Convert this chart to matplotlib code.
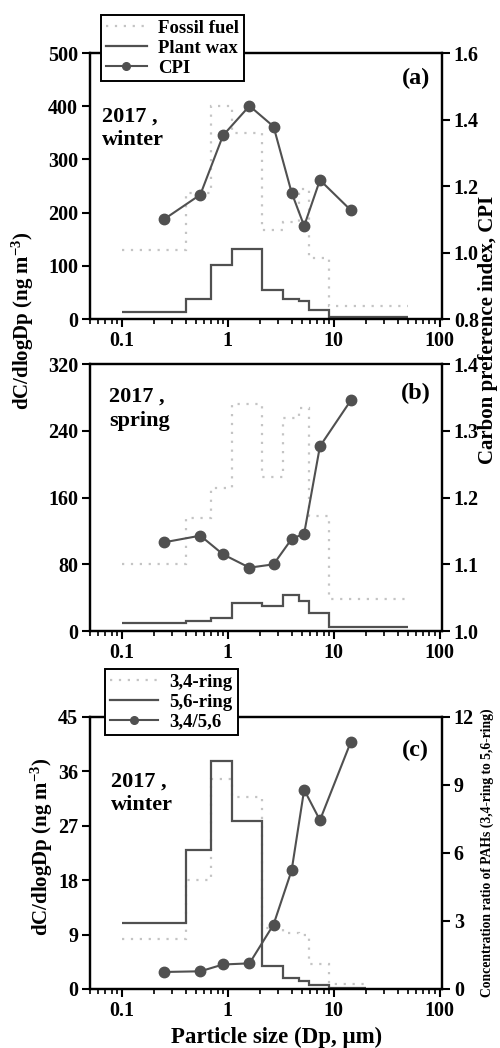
import matplotlib.pyplot as plt
import numpy as np

plt.rcParams['font.family'] = 'Liberation Serif'
plt.rcParams['font.weight'] = 'bold'
plt.rcParams['mathtext.fontset'] = 'custom'
plt.rcParams['mathtext.rm'] = 'Liberation Serif:bold'
plt.rcParams['mathtext.default'] = 'rm'

# size bins (um) and bin midpoints
edges_ab = [0.1, 0.4, 0.7, 1.1, 2.1, 3.3, 4.7, 5.8, 9.0, 50]
edges_c = [0.1, 0.4, 0.7, 1.1, 2.1, 3.3, 4.7, 5.8, 9.0, 20]
mid = [0.25, 0.55, 0.9, 1.6, 2.7, 4.0, 5.25, 7.4, 14.5]

# (a) 2017 winter, n-alkanes
fossil_a = [130, 237, 400, 350, 167, 182, 245, 114, 25]
wax_a = [14, 38, 102, 132, 54, 37, 34, 16, 4]
cpi_a = [1.10, 1.174, 1.352, 1.441, 1.379, 1.18, 1.08, 1.218, 1.127]

# (b) 2017 spring, n-alkanes
fossil_b = [80, 136, 171, 272, 185, 256, 267, 138, 38]
wax_b = [9, 11.5, 16, 34, 30.5, 43, 35.5, 22, 5]
cpi_b = [1.133, 1.143, 1.115, 1.095, 1.100, 1.138, 1.146, 1.277, 1.346]

# (c) 2017 winter, PAHs
ring34 = [8.3, 18, 34.7, 31.7, 10, 9.3, 9.0, 4.2, 0.9]
ring56 = [10.9, 22.9, 37.7, 27.7, 3.8, 1.9, 1.4, 0.6, 0.2]
ratio = [0.75, 0.78, 1.08, 1.13, 2.84, 5.23, 8.78, 7.44, 10.9]

fs = 14.5
dark = '#505050'
light = '#c4c4c4'

fig = plt.figure(figsize=(5, 10.48), dpi=100)

def panel(rect, edges, dotted, solid, pts, ylim, yticks, y2lim, y2ticks, y2labels,
          tag, season, tag_y, txt_pos):
    ax = fig.add_axes(rect)
    ax.set_xscale('log')
    ax.stairs(dotted, edges, baseline=None, color=light, lw=1.6, ls=(0, (1, 3)))
    ax.stairs(solid, edges, baseline=None, color=dark, lw=1.6)
    ax.set_xlim(0.05, 105)
    ax.set_ylim(*ylim)
    ax.set_yticks(yticks)
    ax.set_xticks([0.1, 1, 10, 100])
    ax.set_xticklabels(['0.1', '1', '10', '100'])
    ax.tick_params(axis='both', which='major', direction='out', length=6, width=1.5,
                   labelsize=fs, pad=2.5)
    ax.tick_params(axis='x', which='minor', direction='out', length=3.5, width=1.2)
    for s in ax.spines.values():
        s.set_linewidth(1.6)
    ax2 = ax.twinx()
    ax2.plot(pts[0], pts[1], color=dark, lw=1.5, marker='o', ms=7.5)
    ax2.set_ylim(*y2lim)
    ax2.set_yticks(y2ticks)
    ax2.set_yticklabels(y2labels)
    ax2.tick_params(axis='y', direction='out', length=6, width=1.5, labelsize=fs, pad=2.5)
    for s in ax2.spines.values():
        s.set_linewidth(1.6)
    ax2.text(0.925, tag_y, tag, transform=ax.transAxes, fontsize=fs + 3,
             ha='center', va='center')
    ax2.text(txt_pos[0], txt_pos[1], '2017 ,\n' + season, transform=ax.transAxes,
             fontsize=fs + 1.5, ha='left', va='top', linespacing=1.25)
    return ax, ax2

axa, axa2 = panel([0.18, 0.6956, 0.704, 0.2538], edges_ab, fossil_a, wax_a,
                  (mid, cpi_a), (0, 500), [0, 100, 200, 300, 400, 500],
                  (0.8, 1.6), [0.8, 1.0, 1.2, 1.4, 1.6],
                  ['0.8', '1.0', '1.2', '1.4', '1.6'], '(a)', 'winter', 0.905,
                  (0.035, 0.80))
axb, axb2 = panel([0.18, 0.3979, 0.704, 0.2545], edges_ab, fossil_b, wax_b,
                  (mid, cpi_b), (0, 320), [0, 80, 160, 240, 320],
                  (1.0, 1.4), [1.0, 1.1, 1.2, 1.3, 1.4],
                  ['1.0', '1.1', '1.2', '1.3', '1.4'], '(b)', 'spring', 0.89,
                  (0.055, 0.915))
axc, axc2 = panel([0.18, 0.0563, 0.704, 0.2598], edges_c, ring34, ring56,
                  (mid, ratio), (0, 45), [0, 9, 18, 27, 36, 45],
                  (0, 12), [0, 3, 6, 9, 12],
                  ['0', '3', '6', '9', '12'], '(c)', 'winter', 0.875,
                  (0.06, 0.80))

# legends
h_dot = plt.Line2D([], [], color=light, lw=1.6, ls=(0, (1, 3)))
h_sol = plt.Line2D([], [], color=dark, lw=1.6)
h_pt = plt.Line2D([], [], color=dark, lw=1.5, marker='o', ms=5.5)
leg_kw = dict(loc='upper left', bbox_transform=fig.transFigure, borderaxespad=0,
              fancybox=False, edgecolor='black', framealpha=1, fontsize=13.5,
              handletextpad=0.6, borderpad=0.25, labelspacing=0.15)
lg = axa2.legend([h_dot, h_sol, h_pt], ['Fossil fuel', 'Plant wax', 'CPI'],
                 bbox_to_anchor=(101 / 500, 1 - 15 / 1048), handlelength=2.2, **leg_kw)
lg.get_frame().set_linewidth(1.4)
lg = axc2.legend([h_dot, h_sol, h_pt], ['3,4-ring', '5,6-ring', '3,4/5,6'],
                 bbox_to_anchor=(105 / 500, 1 - 669 / 1048), handlelength=2.6, **leg_kw)
lg.get_frame().set_linewidth(1.4)

# axis titles
fig.text(0.045, 1 - 321 / 1048, 'dC/dlogDp (ng m$^{-3}$)', rotation=90,
         ha='center', va='center', fontsize=15)
fig.text(0.975, 1 - 330 / 1048, 'Carbon preference index, CPI', rotation=90,
         ha='center', va='center', fontsize=15)
fig.text(0.084, 1 - 847 / 1048, 'dC/dlogDp (ng m$^{-3}$)', rotation=90,
         ha='center', va='center', fontsize=15)
fig.text(0.974, 1 - 853 / 1048, 'Concentration ratio of PAHs (3,4-ring to 5,6-ring)',
         rotation=90, ha='center', va='center', fontsize=9.8)
fig.text(277 / 500, 1 - 1037 / 1048, 'Particle size (Dp, \u03bcm)',
         ha='center', va='center', fontsize=16.5)

fig.savefig('out.png', dpi=100)
